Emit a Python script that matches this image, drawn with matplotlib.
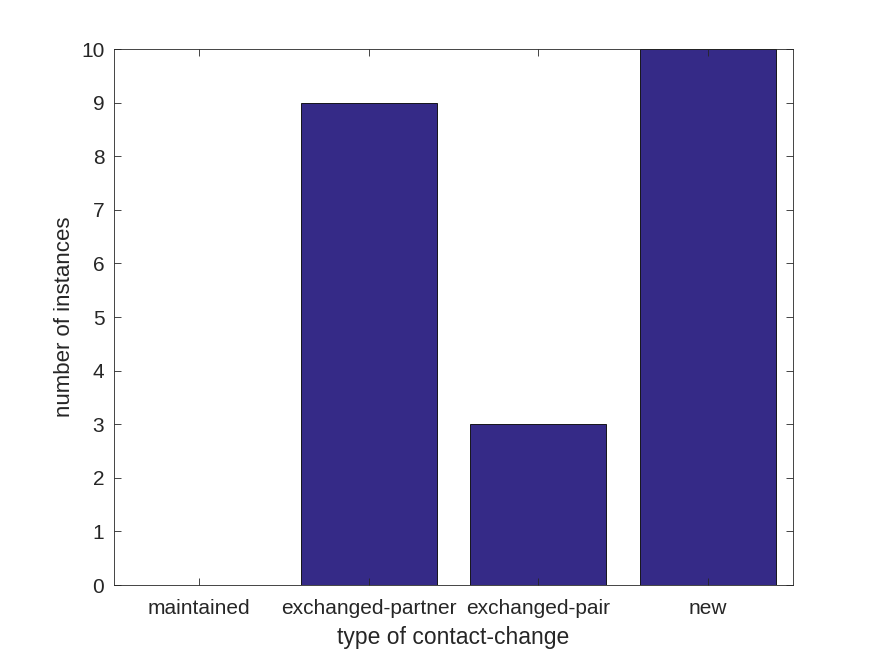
import matplotlib
matplotlib.use('Agg')
import matplotlib.pyplot as plt

# Data
categories = ['maintained', 'exchanged-partner', 'exchanged-pair', 'new']
counts = [0, 9, 3, 10]

plt.rcParams['font.family'] = ['Liberation Sans', 'DejaVu Sans']

fig = plt.figure(figsize=(8.75, 6.56), dpi=100)
ax = fig.add_axes([0.1303, 0.1082, 0.776, 0.8171])

x = list(range(1, len(categories) + 1))
ax.bar(x, counts, width=0.8, color='#352A87', edgecolor='black', linewidth=0.6)

ax.set_xlim(0.5, 4.5)
ax.set_ylim(0, 10)
ax.set_xticks(x)
ax.set_xticklabels(categories)
ax.set_yticks(range(0, 11))

ax.tick_params(direction='in', top=True, right=True, length=5, width=0.6,
               labelsize=15, colors='#262626', pad=7)
ax.tick_params(axis='x', pad=10)
for s in ax.spines.values():
    s.set_linewidth(0.6)
    s.set_color('#262626')

ax.set_xlabel('type of contact-change', fontsize=16.5, color='#262626', labelpad=6)
ax.set_ylabel('number of instances', fontsize=16, color='#262626', labelpad=4)

fig.savefig('out.png', dpi=100)
